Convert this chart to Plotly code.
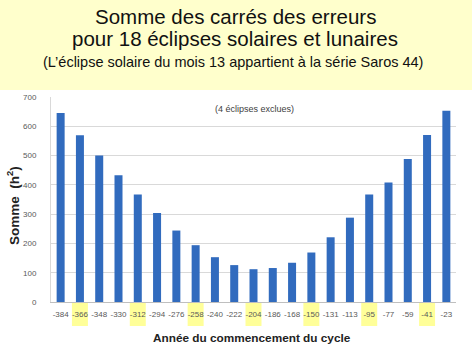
import plotly.graph_objects as go

# ---- data ----
years = ["-384", "-366", "-348", "-330", "-312", "-294", "-276", "-258", "-240", "-222", "-204",
         "-186", "-168", "-150", "-131", "-113", "-95", "-77", "-59", "-41", "-23"]
somme = [645, 569, 500, 433, 367, 304, 244, 194, 153, 126, 112,
         116, 134, 169, 221, 288, 367, 408, 488, 570, 653]
highlighted = ["-366", "-312", "-258", "-204", "-150", "-95", "-41"]

title1 = "Somme des carrés des erreurs"
title2 = "pour 18 éclipses solaires et lunaires"
title3 = "(L’éclipse solaire du mois 13 appartient à la série Saros 44)"
note = "(4 éclipses exclues)"
ytitle = "Somme  (h<sup>2</sup>)"
xtitle = "Année du commencement du cycle"

# ---- layout geometry (pixels) ----
W, H = 472, 352
L, R, T, B = 51, 16, 97, 50
PW, PH = W - L - R, H - T - B


def px(x):
    return (x - L) / PW


def py(y):
    return (H - B - y) / PH


FONT = "Arial, Liberation Sans, sans-serif"

fig = go.Figure()
fig.add_trace(go.Bar(
    x=years, y=somme,
    marker=dict(color="#316BBE", line=dict(width=0)),
    hoverinfo="x+y",
))

shapes = [
    # pale yellow title band
    dict(type="rect", xref="paper", yref="paper", x0=px(0), x1=px(W), y0=py(90), y1=py(0),
         fillcolor="#FFFFCC", line=dict(width=0), layer="below"),
]
cat_w = PW / len(years)
for lab in highlighted:
    i = years.index(lab)
    cx = L + (i + 0.5) * cat_w
    shapes.append(dict(type="rect", xref="paper", yref="paper",
                       x0=px(cx - 8), x1=px(cx + 8), y0=py(326), y1=py(303),
                       fillcolor="#FFFF99", line=dict(width=0), layer="below"))

annotations = [
    dict(text=title1, x=px(235), y=py(16), xref="paper", yref="paper", showarrow=False,
         xanchor="center", yanchor="middle", font=dict(family=FONT, size=20.5, color="#111111")),
    dict(text=title2, x=px(235), y=py(39), xref="paper", yref="paper", showarrow=False,
         xanchor="center", yanchor="middle", font=dict(family=FONT, size=20.5, color="#111111")),
    dict(text=title3, x=px(233), y=py(62), xref="paper", yref="paper", showarrow=False,
         xanchor="center", yanchor="middle", font=dict(family=FONT, size=14.5, color="#111111")),
    dict(text=note, x=px(255), y=py(109), xref="paper", yref="paper", showarrow=False,
         xanchor="center", yanchor="middle", font=dict(family=FONT, size=9, color="#404040")),
    dict(text=ytitle, x=px(13), y=py(206), xref="paper", yref="paper", showarrow=False,
         textangle=-90, xanchor="center", yanchor="middle",
         font=dict(family=FONT, size=13.5, color="#222222", weight="bold")),
    dict(text=xtitle, x=px(252), y=py(338), xref="paper", yref="paper", showarrow=False,
         xanchor="center", yanchor="middle",
         font=dict(family=FONT, size=11.8, color="#222222", weight="bold")),
]

fig.update_layout(
    width=W, height=H,
    margin=dict(l=L, r=R, t=T, b=B, pad=0),
    paper_bgcolor="white", plot_bgcolor="rgba(0,0,0,0)",
    bargap=0.585,
    showlegend=False,
    shapes=shapes,
    annotations=annotations,
    font=dict(family=FONT),
    xaxis=dict(
        type="category", tickfont=dict(size=8, color="#595959"),
        showgrid=False, showline=True, linecolor="#BFBFBF", linewidth=1,
        ticks="outside", ticklen=4, tickcolor="rgba(0,0,0,0)",
        fixedrange=True,
    ),
    yaxis=dict(
        range=[0, 700], tickvals=[0, 100, 200, 300, 400, 500, 600, 700],
        tickfont=dict(size=8, color="#595959"),
        showgrid=True, gridcolor="#D9D9D9", gridwidth=1,
        showline=True, linecolor="#D9D9D9", linewidth=1,
        zeroline=False, ticks="outside", ticklen=12, tickcolor="rgba(0,0,0,0)",
        fixedrange=True,
    ),
)

fig.write_html("out.html")
